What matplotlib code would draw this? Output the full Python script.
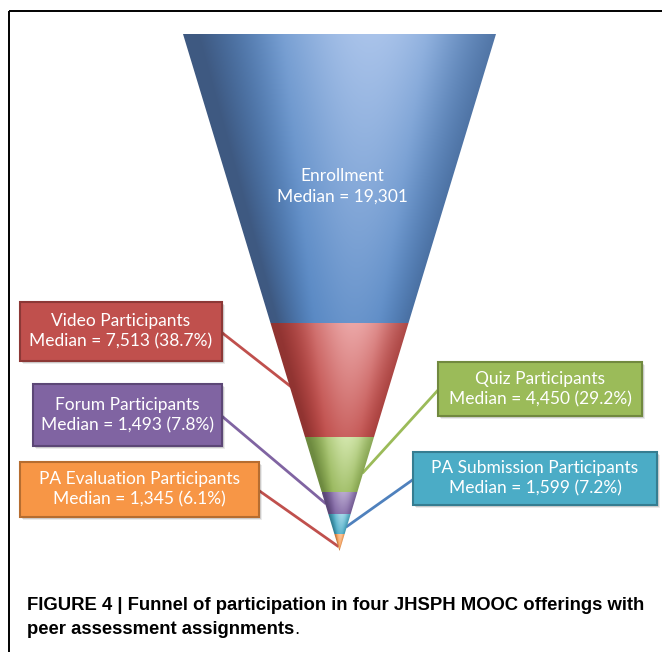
import numpy as np
import matplotlib.pyplot as plt
from matplotlib.patches import Polygon, Rectangle
from matplotlib.colors import to_rgb

# funnel stages, top to bottom
stages = ['Enrollment', 'Video Participants', 'Quiz Participants',
          'Forum Participants', 'PA Submission Participants', 'PA Evaluation Participants']
medians = [19301, 7513, 4450, 1493, 1599, 1345]
pcts = [None, 38.7, 29.2, 7.8, 7.2, 6.1]
# drawn depth of each band in the diagram (not proportional to counts)
band_heights = [289, 114, 55, 22, 20, 17]

base_cols = ['#4d80be', '#bb4542', '#93b356', '#7d62a0', '#45a8c3', '#f59a4e']
light_cols = ['#a9c3ea', '#eba6a6', '#d2e6ab', '#b9a9d0', '#a2d8e8', '#fbc59a']
dark_cols = ['#3a4f72', '#862f2d', '#64803a', '#54416f', '#2d7487', '#b0652c']
box_fill = ['#c0504d', '#c0504d', '#9bbb59', '#8064a2', '#4bacc6', '#f79646']
box_edge = ['#8c3836', '#8c3836', '#71893f', '#5c4776', '#357d91', '#b66d30']
line_cols = ['#c0504d', '#c0504d', '#9bbb59', '#8064a2', '#4f81bd', '#c0504d']

# layout (pixels): box left, top, right, bottom; connector target depth inside band (0-1)
boxes = {1: (20, 302, 222, 361), 2: (438, 362, 642, 416), 3: (33, 384, 222, 446),
         4: (413, 452, 657, 505), 5: (20, 462, 259, 517)}
targets = {1: 0.62, 2: 0.64, 3: 0.5, 4: 0.62, 5: 0.7}

top_y, apex_x, half_w = 34, 339.5, 156.5
total = sum(band_heights)
edges_y = top_y + np.concatenate([[0], np.cumsum(band_heights)])

def half_width(y):
    return half_w * (top_y + total - y) / total

fig = plt.figure(figsize=(6.62, 6.52), dpi=100)
ax = fig.add_axes([0, 0, 1, 1])
ax.set_xlim(0, 662)
ax.set_ylim(652, 0)
ax.axis('off')

# frame (top + left rule)
ax.plot([9, 662], [11, 11], color='black', lw=1.4, solid_capstyle='butt')
ax.plot([9, 9], [11, 652], color='black', lw=1.4, solid_capstyle='butt')

# funnel bands with cone shading
for i in range(len(stages)):
    ya, yb = edges_y[i], edges_y[i + 1]
    wa, wb = half_width(ya), half_width(yb)
    poly = Polygon([(apex_x - wa, ya), (apex_x + wa, ya), (apex_x + wb, yb), (apex_x - wb, yb)],
                   closed=True, facecolor='none', edgecolor='none')
    ax.add_patch(poly)
    ny = max(int(yb - ya), 2)
    nx = int(2 * wa) + 2
    yy = np.linspace(ya, yb, ny)[:, None]
    xx = np.linspace(apex_x - wa, apex_x + wa, nx)[None, :]
    u = (xx - apex_x) / np.maximum(half_width(yy), 1e-3)
    t = (yy - ya) / max(yb - ya, 1)
    glow = np.exp(-((u - 0.2) / 0.65) ** 2) * (0.3 + 0.7 * (1 - t))
    dark = np.clip((np.abs(u - 0.1) - 0.45) / 0.55, 0, 1) ** 1.3
    dark = dark * np.where(u < 0, 0.8, 0.5)
    b, l, d = (np.array(to_rgb(c)) for c in (base_cols[i], light_cols[i], dark_cols[i]))
    img = b * (1 - glow[..., None]) + l * glow[..., None]
    img = img * (1 - dark[..., None]) + d * dark[..., None]
    im = ax.imshow(np.clip(img, 0, 1), extent=(apex_x - wa, apex_x + wa, yb, ya),
                   origin='upper', aspect='auto', zorder=3, interpolation='bilinear')
    im.set_clip_path(poly)

ax.set_xlim(0, 662)
ax.set_ylim(652, 0)

# enrollment label inside funnel
ax.text(342, 186, f"{stages[0]}\nMedian = {medians[0]:,}", color='white', fontsize=12.5,
        family='Lato', ha='center', va='center', linespacing=1.35, zorder=5)

# label boxes + connectors
for i, (x0, y0, x1, y1) in boxes.items():
    ya, yb = edges_y[i], edges_y[i + 1]
    ty = ya + targets[i] * (yb - ya)
    left = x1 < apex_x
    tx = apex_x - half_width(ty) if left else apex_x + half_width(ty)
    if i == 5:
        tx = apex_x - 2
    if i == 1:
        tx += 8
    sx = x1 if left else x0
    sy = y0 + 0.52 * (y1 - y0)
    ax.plot([sx, tx], [sy, ty], color=line_cols[i], lw=2, zorder=2)
    for k, a in ((3, 0.08), (2, 0.12)):
        ax.add_patch(Rectangle((x0 + k, y0 + k), x1 - x0, y1 - y0, facecolor='black',
                               alpha=a, edgecolor='none', zorder=3))
    ax.add_patch(Rectangle((x0, y0), x1 - x0, y1 - y0, facecolor=box_fill[i],
                           edgecolor=box_edge[i], lw=1.5, zorder=4))
    ax.text((x0 + x1) / 2, (y0 + y1) / 2, f"{stages[i]}\nMedian = {medians[i]:,} ({pcts[i]}%)",
            color='white', fontsize=12.5, family='Lato', ha='center', va='center',
            linespacing=1.3, zorder=5)

# caption
cap_font = ['Liberation Sans Narrow', 'Liberation Sans']
ax.text(27, 605, "FIGURE 4 | Funnel of participation in four JHSPH MOOC offerings with",
        fontsize=13.3, fontweight='bold', family=cap_font, va='center', ha='left')
t2 = ax.text(27, 629, "peer assessment assignments", fontsize=13.3, fontweight='bold',
             family=cap_font, va='center', ha='left')
ax.annotate('.', xy=(1, 0.5), xycoords=t2, va='center', ha='left', fontsize=13.3,
            family=cap_font)

fig.savefig('out.png', dpi=100, facecolor='white')
